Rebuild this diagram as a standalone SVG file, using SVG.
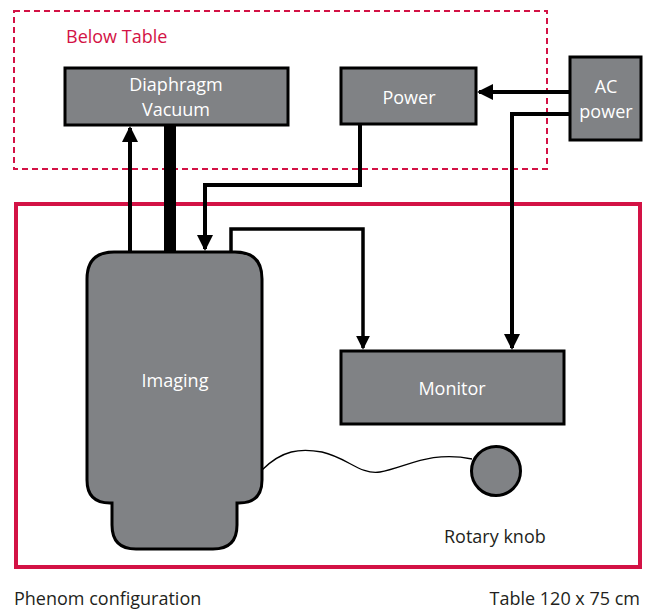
<svg xmlns="http://www.w3.org/2000/svg" width="646" height="609" viewBox="0 0 646 609">
<defs>
<style>
.box{fill:#808285;stroke:#000;stroke-width:3}
.lbl{font-family:"Open Sans","Liberation Sans",sans-serif;font-size:18px;fill:#fff;text-anchor:middle}
.cap{font-family:"Open Sans","Liberation Sans",sans-serif;font-size:18px;fill:#231f20}
.ln{fill:none;stroke:#000;stroke-width:4}
</style>
<marker id="ah" markerWidth="4" markerHeight="4" refX="3.5" refY="2" orient="auto" markerUnits="strokeWidth" viewBox="0 0 4 4">
<path d="M0,0 L4,2 L0,4 Z" fill="#000"/>
</marker>
</defs>
<rect width="646" height="609" fill="#fff"/>
<rect x="14" y="11" width="533" height="158" fill="none" stroke="#d31245" stroke-width="2" stroke-dasharray="6,4"/>
<text x="66" y="43" class="cap" style="fill:#d31245">Below Table</text>
<rect x="16" y="204" width="624" height="363" fill="none" stroke="#d31245" stroke-width="4"/>

<g id="connectors">
<line x1="130" y1="252" x2="130" y2="128" class="ln" marker-end="url(#ah)"/>
<line x1="170" y1="125" x2="170" y2="252" fill="none" stroke="#000" stroke-width="12"/>
<polyline points="360,124 360,185 205,185 205,249" class="ln" marker-end="url(#ah)"/>
<polyline points="231,252 231,229 363,229 363,348" fill="none" stroke="#000" stroke-width="3.5" marker-end="url(#ah)"/>
<line x1="570" y1="92" x2="479" y2="92" class="ln" marker-end="url(#ah)"/>
<polyline points="570,114 512,114 512,348" class="ln" marker-end="url(#ah)"/>
<path d="M262,470 C282,450 300,448 322,452 C348,458 360,475 380,472 C405,468 430,450 472,459" fill="none" stroke="#000" stroke-width="1.3"/>
</g>

<g id="diaphragm">
<rect x="65" y="68" width="223" height="57" class="box"/>
<text x="176" y="91" class="lbl">Diaphragm</text>
<text x="176" y="116" class="lbl">Vacuum</text>
</g>
<g id="power">
<rect x="341" y="68" width="135" height="56" class="box"/>
<text x="409" y="104" class="lbl">Power</text>
</g>
<g id="acpower">
<rect x="570" y="57" width="71" height="83" class="box"/>
<text x="606" y="93" class="lbl">AC</text>
<text x="606" y="118" class="lbl">power</text>
</g>
<g id="imaging">
<path d="M87,279 Q87,252 114,252 L235,252 Q262,252 262,279 L262,480 Q262,503 239,503 L237,503 L237,525 Q237,549 213,549 L136,549 Q112,549 112,525 L112,503 L110,503 Q87,503 87,480 Z" class="box"/>
<text x="175" y="387" class="lbl">Imaging</text>
</g>
<g id="monitor">
<rect x="341" y="351" width="223" height="73" class="box"/>
<text x="452" y="395" class="lbl">Monitor</text>
</g>
<g id="knob">
<circle cx="496" cy="471" r="24.5" class="box"/>
<text x="444" y="543" class="cap">Rotary knob</text>
</g>
<text x="14" y="605" class="cap">Phenom configuration</text>
<text x="640" y="605" class="cap" text-anchor="end">Table 120 x 75 cm</text>
</svg>
